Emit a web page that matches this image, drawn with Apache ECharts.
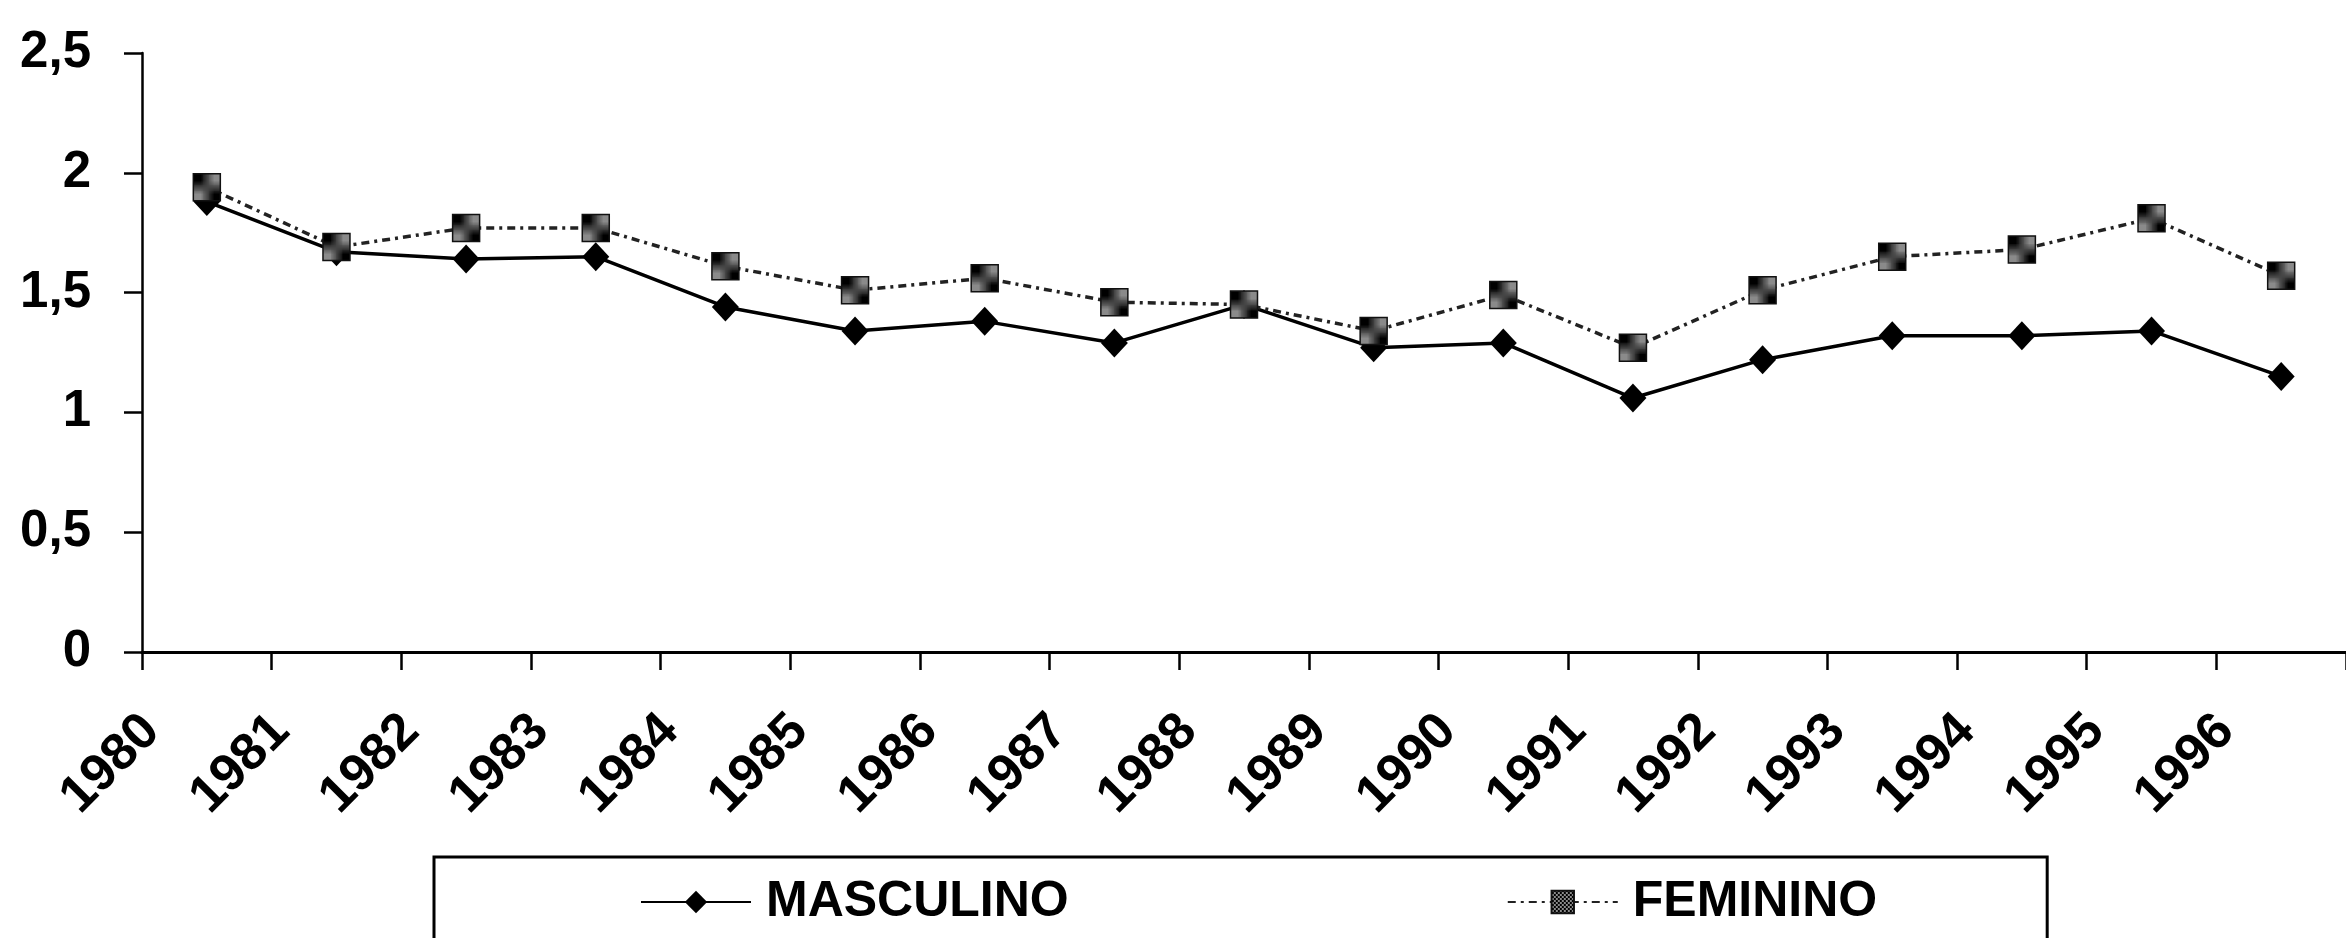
<!DOCTYPE html>
<html>
<head>
<meta charset="utf-8">
<script src="https://cdn.jsdelivr.net/npm/echarts@6/dist/echarts.min.js"></script>
<style>
html,body{margin:0;padding:0;background:#fff;}
#chart{width:2346px;height:938px;}
</style>
</head>
<body>
<div id="chart"></div>
<script>
const years = ['1980','1981','1982','1983','1984','1985','1986','1987','1988','1989','1990','1991','1992','1993','1994','1995','1996'];
const masculino = [1.88,1.67,1.64,1.65,1.44,1.34,1.38,1.29,1.45,1.27,1.29,1.06,1.22,1.32,1.32,1.34,1.15];
const feminino  = [1.94,1.69,1.77,1.77,1.61,1.51,1.56,1.46,1.45,1.34,1.49,1.27,1.51,1.65,1.68,1.81,1.57];
const seriesNames = ['MASCULINO','FEMININO'];

// checkered texture for the FEMININO markers
const pat = document.createElement('canvas');
pat.width = 4; pat.height = 4;
const pc = pat.getContext('2d');
pc.fillStyle = '#8a8a8a'; pc.fillRect(0,0,4,4);
pc.fillStyle = '#000';
pc.fillRect(0,0,2,2); pc.fillRect(2,2,2,2);

const chart = echarts.init(document.getElementById('chart'), null, {renderer:'canvas'});
chart.setOption({
  backgroundColor:'#fff',
  animation:false,
  grid:{left:142, right:0, top:53, bottom:286, containLabel:false},
  xAxis:{
    type:'category',
    data:years,
    boundaryGap:true,
    axisLine:{show:true, lineStyle:{color:'#000', width:3}},
    axisTick:{show:true, length:18, lineStyle:{color:'#000', width:2.5}},
    axisLabel:{
      rotate:45, margin:16, interval:0,
      padding:[0,78,0,0],
      fontFamily:'Liberation Sans, Arial, sans-serif',
      fontWeight:'bold', fontSize:52, color:'#000'
    },
    splitLine:{show:false}
  },
  yAxis:{
    type:'value', min:0, max:2.5, interval:0.5,
    axisLine:{show:true, lineStyle:{color:'#000', width:2.5}},
    axisTick:{show:true, length:18, lineStyle:{color:'#000', width:2.5}},
    axisLabel:{
      margin:51,
      formatter:v => String(v).replace('.', ','),
      fontFamily:'Liberation Sans, Arial, sans-serif',
      fontWeight:'bold', fontSize:51, color:'#000'
    },
    splitLine:{show:false}
  },
  legend:{
    data:seriesNames,
    left:434, top:857,
    orient:'horizontal',
    padding:[20,170,80,206],
    itemGap:438,
    itemWidth:110, itemHeight:28,
    borderColor:'#000', borderWidth:3,
    textStyle:{
      fontFamily:'Liberation Sans, Arial, sans-serif',
      fontWeight:'bold', fontSize:50, color:'#000',
      padding:[0,0,0,10]
    }
  },
  series:[
    {
      name:seriesNames[0], type:'line', data:masculino,
      symbol:'diamond', symbolSize:[27,29],
      lineStyle:{color:'#000', width:3.5, type:'solid'},
      itemStyle:{color:'#000'},
      z:2
    },
    {
      name:seriesNames[1], type:'line', data:feminino,
      symbol:'rect', symbolSize:27,
      lineStyle:{color:'#222', width:3.5, type:[8,5,3,5]},
      itemStyle:{color:{image:pat, repeat:'repeat'}, borderColor:'#111', borderWidth:1.5},
      z:3
    }
  ]
});
</script>
</body>
</html>
